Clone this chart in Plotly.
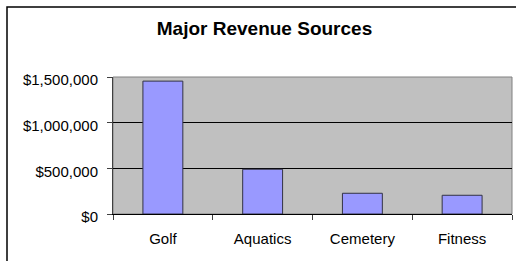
import plotly.graph_objects as go

categories = ["Golf", "Aquatics", "Cemetery", "Fitness"]
revenue = [1455000, 490000, 227000, 205000]
y_tick_vals = [0, 500000, 1000000, 1500000]
y_tick_text = ["$0", "$500,000", "$1,000,000", "$1,500,000"]
title_text = "Major Revenue Sources"

W, H = 516, 261
L, R, T, B = 113, 4, 77, 47
pw, ph = W - L - R, H - T - B

fig = go.Figure()
fig.add_trace(go.Bar(
    x=categories, y=revenue,
    marker=dict(color="#9999FF", line=dict(color="#333344", width=1)),
    width=0.4,
))

def px_x(p):
    return (p - L) / pw

def px_y(p):
    return (H - B - p) / ph

fig.update_layout(
    width=W, height=H,
    margin=dict(l=L, r=R, t=T, b=B, pad=0, autoexpand=False),
    paper_bgcolor="white",
    plot_bgcolor="#C0C0C0",
    showlegend=False,
    font=dict(family="Arial, Liberation Sans, sans-serif", size=15, color="black"),
    title=dict(
        text="<b>" + title_text + "</b>",
        font=dict(family="Arial, Liberation Sans, sans-serif", size=19, color="black"),
        x=264.5 / W, xanchor="center",
        y=1 - 28 / H, yanchor="middle", yref="container", xref="container",
        automargin=False,
    ),
    xaxis=dict(
        type="category",
        automargin=False,
        showgrid=False,
        showline=True, linecolor="black", linewidth=1,
        ticks="outside", ticklen=5, tickcolor="#404040", tickwidth=1,
        tickson="boundaries",
        ticklabelstandoff=11,
        range=[-0.5, 3.5],
        fixedrange=True,
    ),
    yaxis=dict(
        automargin=False,
        range=[0, 1500000],
        tickvals=y_tick_vals, ticktext=y_tick_text,
        showgrid=True, gridcolor="black", gridwidth=1,
        showline=True, linecolor="#404040", linewidth=1,
        ticks="outside", ticklen=5, tickcolor="#404040", tickwidth=1,
        ticklabelstandoff=6,
        ticklabelshift=3,
        zeroline=False,
        fixedrange=True,
    ),
    shapes=[
        dict(type="rect", xref="paper", yref="paper", x0=0, x1=1, y0=0, y1=1,
             line=dict(color="#808080", width=1), layer="below"),
        dict(type="rect", xref="paper", yref="paper",
             x0=px_x(7), x1=px_x(530), y0=px_y(275), y1=px_y(7),
             line=dict(color="black", width=1.5)),
    ],
)

fig.write_html(
    "out.html",
    config={"displayModeBar": False},
    post_script="document.body.style.margin='0';document.body.style.overflow='hidden';",
)
